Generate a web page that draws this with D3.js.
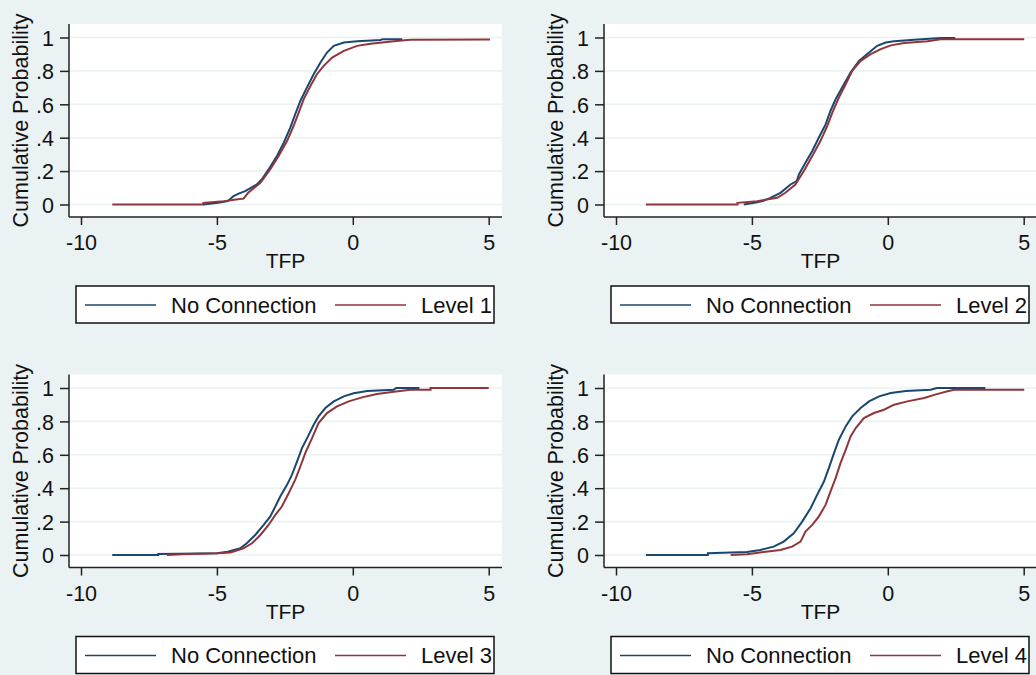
<!DOCTYPE html>
<html>
<head>
<meta charset="utf-8">
<script src="https://cdnjs.cloudflare.com/ajax/libs/d3/7.8.5/d3.min.js"></script>
<style>
  body { margin: 0; background: #EAF2F3; }
  svg text { font-family: "Liberation Sans", Arial, sans-serif; fill: #111; }
</style>
</head>
<body>
<svg id="chart" width="1036" height="675"></svg>
<script>
// ECDF points [TFP, cumulative probability]
const noConn1 = [[-5.5,0],[-4.95,0.01],[-4.6,0.02],[-4.39,0.05],[-4.2,0.065],[-3.96,0.08],[-3.75,0.1],[-3.53,0.12],[-3.35,0.15],[-3.1,0.21],[-2.79,0.29],[-2.54,0.37],[-2.3,0.46],[-2.12,0.54],[-1.93,0.62],[-1.69,0.7],[-1.44,0.78],[-1.19,0.85],[-0.95,0.91],[-0.7,0.95],[-0.33,0.97],[0.16,0.977],[1.02,0.985],[1.1,0.99],[1.82,0.99]]
const level1 = [[-8.85,0],[-5.5,0],[-5.5,0.01],[-4.75,0.02],[-4.3,0.03],[-4.02,0.035],[-3.85,0.07],[-3.4,0.13],[-3.04,0.21],[-2.73,0.29],[-2.42,0.38],[-2.18,0.47],[-1.99,0.55],[-1.81,0.63],[-1.56,0.71],[-1.32,0.78],[-1.07,0.83],[-0.76,0.88],[-0.33,0.92],[0.16,0.95],[0.65,0.963],[1.51,0.977],[2.12,0.987],[5.05,0.988]]

const noConn2 = [[-5.3,0],[-4.9,0.01],[-4.6,0.02],[-4.32,0.04],[-3.95,0.07],[-3.58,0.12],[-3.35,0.14],[-3.27,0.18],[-3.03,0.25],[-2.78,0.32],[-2.54,0.4],[-2.29,0.48],[-2.11,0.56],[-1.92,0.63],[-1.68,0.7],[-1.37,0.79],[-1.06,0.86],[-0.69,0.91],[-0.39,0.95],[-0.08,0.97],[0.23,0.977],[0.97,0.987],[1.95,0.997],[2.48,0.997]]
const level2 = [[-8.9,0],[-5.53,0],[-5.53,0.01],[-4.81,0.02],[-4.07,0.04],[-3.77,0.07],[-3.4,0.12],[-3.09,0.2],[-2.78,0.29],[-2.48,0.38],[-2.23,0.47],[-2.04,0.55],[-1.8,0.64],[-1.55,0.72],[-1.31,0.8],[-1.0,0.86],[-0.63,0.9],[-0.26,0.93],[0.11,0.953],[0.6,0.967],[1.46,0.977],[1.95,0.99],[5.02,0.99]]

const noConn3 = [[-8.85,0],[-7.16,0],[-7.16,0.006],[-5.0,0.01],[-4.6,0.02],[-4.14,0.04],[-3.9,0.07],[-3.59,0.12],[-3.28,0.18],[-3.04,0.23],[-2.79,0.31],[-2.67,0.35],[-2.42,0.42],[-2.24,0.48],[-2.05,0.56],[-1.87,0.64],[-1.68,0.7],[-1.44,0.78],[-1.26,0.83],[-1.01,0.88],[-0.7,0.92],[-0.33,0.95],[0.03,0.968],[0.53,0.982],[1.51,0.99],[1.6,1.0],[2.45,1.0]]
const level3 = [[-6.84,0],[-6.3,0.005],[-5.0,0.01],[-4.5,0.015],[-4.02,0.04],[-3.71,0.07],[-3.4,0.12],[-3.1,0.18],[-2.85,0.24],[-2.61,0.29],[-2.36,0.37],[-2.12,0.45],[-1.93,0.53],[-1.75,0.61],[-1.5,0.7],[-1.26,0.79],[-0.95,0.85],[-0.58,0.89],[-0.15,0.92],[0.34,0.944],[0.89,0.964],[1.51,0.978],[2.12,0.99],[2.86,0.99],[2.86,1.0],[5.0,1.0]]

const noConn4 = [[-8.9,0],[-6.62,0],[-6.62,0.01],[-5.18,0.018],[-4.69,0.03],[-4.2,0.05],[-3.83,0.08],[-3.46,0.13],[-3.15,0.2],[-2.84,0.28],[-2.6,0.36],[-2.35,0.44],[-2.17,0.52],[-1.98,0.61],[-1.8,0.69],[-1.55,0.77],[-1.31,0.83],[-1.0,0.88],[-0.69,0.92],[-0.32,0.95],[0.11,0.97],[0.66,0.982],[1.58,0.99],[1.8,1.0],[3.59,1.0]]
const level4 = [[-5.78,0],[-5.18,0.005],[-4.57,0.018],[-3.95,0.03],[-3.52,0.05],[-3.21,0.08],[-3.03,0.14],[-2.78,0.18],[-2.54,0.23],[-2.29,0.3],[-2.11,0.38],[-1.92,0.46],[-1.74,0.55],[-1.55,0.63],[-1.37,0.71],[-1.18,0.76],[-0.88,0.82],[-0.51,0.85],[-0.14,0.87],[0.23,0.9],[0.72,0.92],[1.34,0.94],[1.77,0.962],[2.2,0.98],[2.44,0.99],[5.02,0.99]]

const levelNames = ['Level 1', 'Level 2', 'Level 3', 'Level 4']
const xTicks = [-10, -5, 0, 5]
const xTickLabels = ['-10', '-5', '0', '5']
const yTicks = [0, 0.2, 0.4, 0.6, 0.8, 1]
const yTickLabels = ['0', '.2', '.4', '.6', '.8', '1']

const panels = [
  { name: levelNames[0], base: noConn1, level: level1 },
  { name: levelNames[1], base: noConn2, level: level2 },
  { name: levelNames[2], base: noConn3, level: level3 },
  { name: levelNames[3], base: noConn4, level: level4 }
]

const BLUE = '#1A476F'
const RED = '#90353B'
const GRID = '#EAF2F3'

const svg = d3.select('#chart')
const panelW = 535, panelH = 350.5
// plot region inside a panel
const plot = { left: 69, right: 502, top: 24, bottom: 217 }

const xScale = d3.scaleLinear().domain([-10, 5]).range([81, 488.7])
const yScale = d3.scaleLinear().domain([0, 1]).range([204.5, 37.5])

const line = d3.line()
  .x(d => xScale(d[0]))
  .y(d => yScale(d[1]))

panels.forEach((p, i) => {
  const col = i % 2, row = Math.floor(i / 2)
  const g = svg.append('g')
    .attr('transform', `translate(${col * panelW},${row * panelH})`)

  g.append('rect')
    .attr('x', plot.left).attr('y', plot.top)
    .attr('width', plot.right - plot.left)
    .attr('height', plot.bottom - plot.top)
    .attr('fill', '#fff')

  // horizontal grid
  g.selectAll('line.grid')
    .data(yTicks)
    .enter().append('line')
    .attr('class', 'grid')
    .attr('x1', plot.left).attr('x2', plot.right)
    .attr('y1', d => yScale(d)).attr('y2', d => yScale(d))
    .attr('stroke', GRID).attr('stroke-width', 1.6)

  // curves: No Connection first, level drawn on top
  g.append('path').datum(p.base)
    .attr('d', line)
    .attr('fill', 'none').attr('stroke', BLUE).attr('stroke-width', 2)
  g.append('path').datum(p.level)
    .attr('d', line)
    .attr('fill', 'none').attr('stroke', RED).attr('stroke-width', 2)

  // axes
  const yAxis = d3.axisLeft(yScale)
    .tickValues(yTicks)
    .tickFormat((d, j) => yTickLabels[j])
    .tickSize(9).tickPadding(6)
  const ya = g.append('g').attr('transform', `translate(${plot.left},0)`).call(yAxis)
  ya.select('.domain').remove()
  ya.selectAll('text').style('font-size', '21.5px').attr('dy', '0.36em')
  ya.selectAll('line').attr('stroke', '#222').attr('stroke-width', 1.5)

  const xAxis = d3.axisBottom(xScale)
    .tickValues(xTicks)
    .tickFormat((d, j) => xTickLabels[j])
    .tickSize(8).tickPadding(10)
  const xa = g.append('g').attr('transform', `translate(0,${plot.bottom})`).call(xAxis)
  xa.select('.domain').remove()
  xa.selectAll('text').style('font-size', '21.5px')
  xa.selectAll('line').attr('stroke', '#222').attr('stroke-width', 1.5)

  g.append('line')
    .attr('x1', plot.left).attr('x2', plot.left)
    .attr('y1', plot.top).attr('y2', plot.bottom)
    .attr('stroke', '#222').attr('stroke-width', 1.5)
  g.append('line')
    .attr('x1', plot.left).attr('x2', plot.right)
    .attr('y1', plot.bottom).attr('y2', plot.bottom)
    .attr('stroke', '#222').attr('stroke-width', 1.5)

  // axis titles
  g.append('text')
    .attr('x', (plot.left + plot.right) / 2)
    .attr('y', 268)
    .attr('text-anchor', 'middle')
    .style('font-size', '21px')
    .text('TFP')
  g.append('text')
    .attr('transform', `translate(28,${(plot.top + plot.bottom) / 2}) rotate(-90)`)
    .attr('text-anchor', 'middle')
    .style('font-size', '21.5px')
    .text('Cumulative Probability')

  // legend
  const lg = g.append('g')
  lg.append('rect')
    .attr('x', 76).attr('y', 286).attr('width', 418).attr('height', 37)
    .attr('fill', '#fff').attr('stroke', '#111').attr('stroke-width', 1.5)
  const items = [
    { label: 'No Connection', color: BLUE, x0: 85 },
    { label: p.name, color: RED, x0: 335 }
  ]
  items.forEach(it => {
    lg.append('line')
      .attr('x1', it.x0).attr('x2', it.x0 + 71)
      .attr('y1', 305).attr('y2', 305)
      .attr('stroke', it.color).attr('stroke-width', 1.5)
    lg.append('text')
      .attr('x', it.x0 + 86).attr('y', 312.5)
      .style('font-size', '22px')
      .text(it.label)
  })
})
</script>
</body>
</html>
